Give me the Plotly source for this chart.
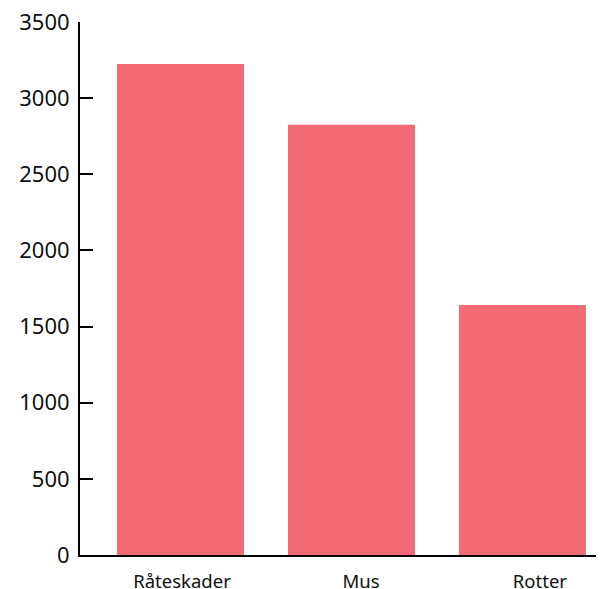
import plotly.graph_objects as go

categories = ["Råteskader", "Mus", "Rotter"]
values = [3225, 2825, 1642]
y_ticks = [0, 500, 1000, 1500, 2000, 2500, 3000, 3500]

fig = go.Figure()
fig.add_trace(go.Bar(x=categories, y=values, marker_color="#F26A74",
                     marker_line_width=0))
# invisible trace carrying the category labels on a label axis
fig.add_trace(go.Scatter(x=categories, y=[0] * len(categories), xaxis="x2",
                         mode="markers", marker=dict(opacity=0),
                         hoverinfo="skip", showlegend=False))
fig.update_layout(
    width=604, height=589,
    margin=dict(l=72, r=8, t=14, b=42, autoexpand=False),
    paper_bgcolor="white", plot_bgcolor="white",
    bargap=0.257, showlegend=False,
    font=dict(family="Noto Sans", color="#111"),
    xaxis=dict(type="category", range=[-0.588, 2.477], showline=True,
               linecolor="black", linewidth=2, ticks="", showgrid=False,
               showticklabels=False, automargin=False),
    xaxis2=dict(type="category", overlaying="x", side="bottom",
                range=[-0.570, 2.358], showline=False, ticks="",
                showgrid=False, tickfont=dict(size=18.5),
                ticklabelstandoff=13, automargin=False),
    yaxis=dict(range=[0, 3500], tickvals=y_ticks, showline=True,
               linecolor="black", linewidth=2, ticks="inside", ticklen=13,
               tickwidth=2, tickcolor="black", showgrid=False, zeroline=False,
               tickfont=dict(size=22), ticklabelstandoff=4, automargin=False,
               ticklabeloverflow="allow"),
)
fig.write_html("out.html")
